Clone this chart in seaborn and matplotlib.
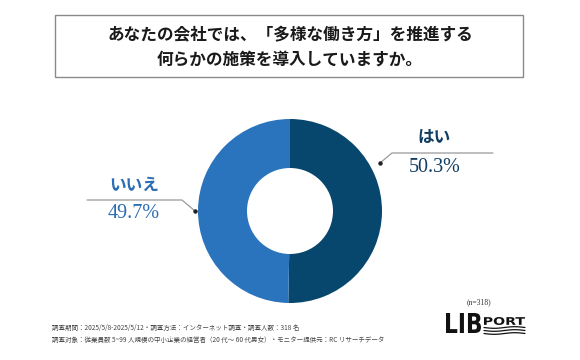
import matplotlib
matplotlib.use("Agg")
import matplotlib.pyplot as plt
import seaborn as sns
import numpy as np
from matplotlib.patches import Rectangle, PathPatch
from matplotlib.lines import Line2D
from matplotlib.textpath import TextPath
from matplotlib.font_manager import FontProperties
from matplotlib.transforms import Affine2D, IdentityTransform

categories = ["はい", "いいえ"]
values = [50.3, 49.7]
pct_labels = ["50.3%", "49.7%"]
title_lines = ["あなたの会社では、「多様な働き方」を推進する", "何らかの施策を導入していますか。"]
note_lines = ["調査期間：2025/5/8-2025/5/12・調査方法：インターネット調査・調査人数：318 名",
              "調査対象：従業員数 5~99 人規模の中小企業の経営者（20 代～ 60 代男女）・モニター提供元：RC リサーチデータ"]
n_label = "(n=318)"

sns.set_theme(style="white")
plt.rcParams['font.family'] = ['Noto Sans CJK JP', 'DejaVu Sans']

W, H = 580, 360
fig = plt.figure(figsize=(W / 100, H / 100), dpi=100)
fig.patch.set_facecolor("white")

def fx(px):
    return px / W

def fy(py):
    return 1 - py / H

colors = ["#07476d", "#2a74bd"]
text_colors = ["#123d63", "#2a6db5"]

# donut
cx, cy, R, r = 290, 211, 92, 43
half = 100
ax = fig.add_axes([fx(cx - half), fy(cy + half), 2 * half / W, 2 * half / H])
ax.pie(values, colors=colors, startangle=90, counterclock=False, radius=1,
       wedgeprops=dict(width=1 - r / R, edgecolor="none"))
lim = half / R
ax.set_xlim(-lim, lim)
ax.set_ylim(-lim, lim)
ax.set_aspect("equal")
ax.axis("off")

# title box
fig.patches.append(Rectangle((fx(55), fy(77)), fx(523) - fx(55), fy(15) - fy(77),
                             transform=fig.transFigure, fill=False,
                             edgecolor="#8a8a8a", lw=1.0))
fig.text(fx(290), fy(35), title_lines[0], ha="center", va="center",
         fontsize=12, fontweight="bold", color="#1a1a1a")
fig.text(fx(290), fy(60), title_lines[1], ha="center", va="center",
         fontsize=12, fontweight="bold", color="#1a1a1a")

# leader lines
def leader(pts, color="#9a9a9a"):
    xs = [fx(p[0]) for p in pts]
    ys = [fy(p[1]) for p in pts]
    fig.lines.append(Line2D(xs, ys, transform=fig.transFigure, color=color, lw=0.9))
    fig.lines.append(Line2D([xs[0]], [ys[0]], transform=fig.transFigure,
                            marker="o", markersize=2.2, color="#222222", lw=0))

leader([(380, 163), (392, 153), (493, 153)])
leader([(195, 211), (182, 200), (87, 200)])

fig.text(fx(434), fy(138), categories[0], ha="center", va="center",
         fontsize=12, fontweight="bold", color=text_colors[0])
fig.text(fx(435), fy(168), pct_labels[0], ha="center", va="center",
         fontsize=14.5, color=text_colors[0], family=["Liberation Serif"])
fig.text(fx(134), fy(185), categories[1], ha="center", va="center",
         fontsize=12, fontweight="bold", color=text_colors[1])
fig.text(fx(134), fy(213), pct_labels[1], ha="center", va="center",
         fontsize=14.5, color=text_colors[1], family=["Liberation Serif"])

# notes
fig.text(fx(52), fy(328), note_lines[0], ha="left", va="center",
         fontsize=4.7, color="#444444")
fig.text(fx(52), fy(340), note_lines[1], ha="left", va="center",
         fontsize=4.7, color="#444444")

fig.text(fx(479), fy(302), n_label, ha="center", va="center",
         fontsize=5.5, color="#333333", family=["Liberation Serif"])

# logo (drawn as scaled text paths in pixel space)
logo_font = FontProperties(family="DejaVu Sans", weight="bold")

def logo_text(s, x0, y_base, cap_h, width):
    tp = TextPath((0, 0), s, size=1, prop=logo_font)
    ext = tp.get_extents()
    sx = width / ext.width
    sy = cap_h / ext.height
    tr = Affine2D().translate(-ext.x0, -ext.y0).scale(sx, sy).translate(x0, H - y_base)
    path = tr.transform_path(tp)
    patch = PathPatch(path, facecolor="#111111", edgecolor="none",
                      transform=IdentityTransform())
    fig.patches.append(patch)

logo_text("LIB", 446, 333, 20, 35)
logo_text("PORT", 484, 325, 8, 41)
wx = np.linspace(484, 525, 60)
for yy in (327.5, 330.5, 333.5):
    wy = yy + 0.8 * np.sin((wx - 484) / 41 * 2 * np.pi)
    fig.lines.append(Line2D(wx / W, 1 - wy / H, transform=fig.transFigure,
                            color="#111111", lw=0.9))

fig.savefig("out.png", dpi=100, facecolor="white")
